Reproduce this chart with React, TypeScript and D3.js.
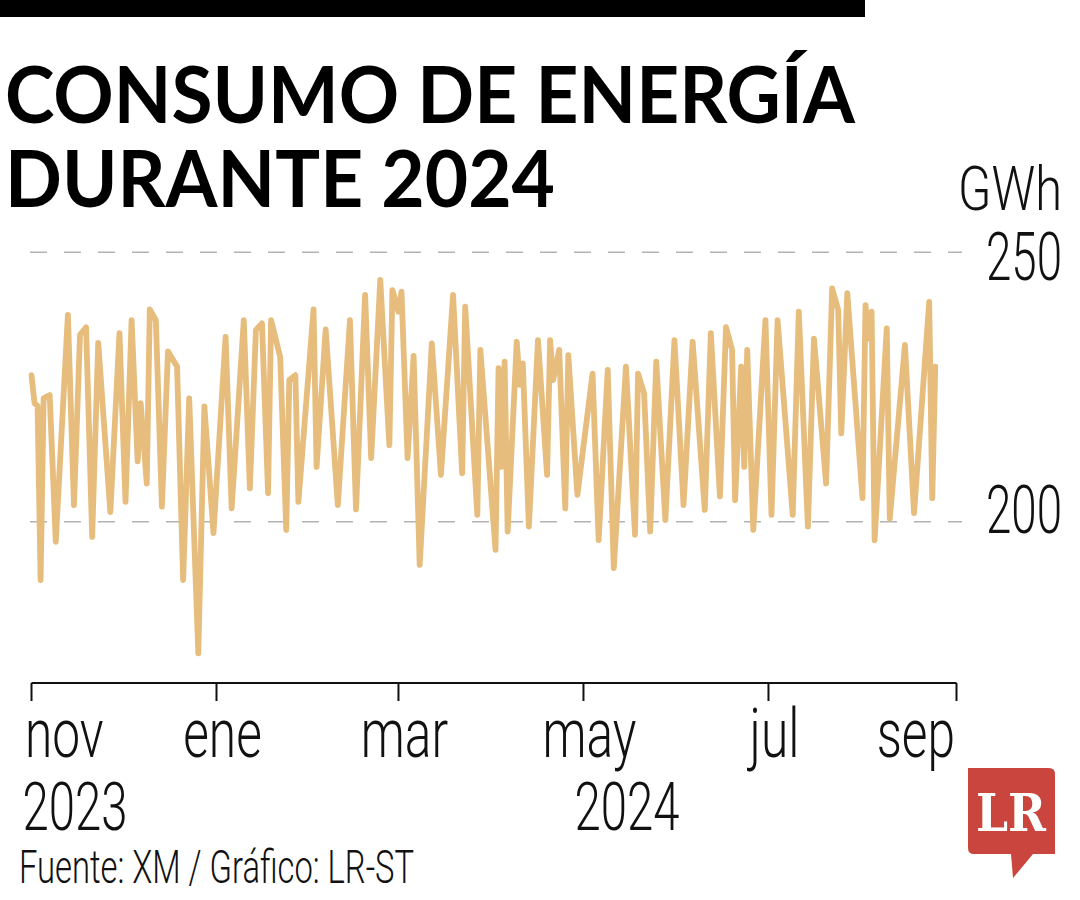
import * as d3 from 'd3';

// Daily electricity demand (GWh), turning points
const dates = [
  '2023-11-01', '2023-11-02', '2023-11-03', '2023-11-04', '2023-11-05', '2023-11-07', '2023-11-09', '2023-11-13',
  '2023-11-15', '2023-11-17', '2023-11-19', '2023-11-21', '2023-11-23', '2023-11-27', '2023-11-30', '2023-12-02',
  '2023-12-04', '2023-12-06', '2023-12-07', '2023-12-09', '2023-12-10', '2023-12-12', '2023-12-14', '2023-12-16',
  '2023-12-19', '2023-12-21', '2023-12-23', '2023-12-26', '2023-12-28', '2023-12-31', '2024-01-04', '2024-01-06',
  '2024-01-10', '2024-01-12', '2024-01-14', '2024-01-16', '2024-01-18', '2024-01-19', '2024-01-22', '2024-01-24',
  '2024-01-25', '2024-01-27', '2024-01-28', '2024-02-02', '2024-02-03', '2024-02-06', '2024-02-10', '2024-02-14',
  '2024-02-16', '2024-02-19', '2024-02-21', '2024-02-24', '2024-02-27', '2024-02-28', '2024-03-01', '2024-03-02',
  '2024-03-04', '2024-03-06', '2024-03-08', '2024-03-12', '2024-03-15', '2024-03-19', '2024-03-22', '2024-03-23',
  '2024-03-27', '2024-03-28', '2024-04-02', '2024-04-03', '2024-04-04', '2024-04-05', '2024-04-06', '2024-04-09',
  '2024-04-10', '2024-04-11', '2024-04-13', '2024-04-16', '2024-04-19', '2024-04-20', '2024-04-21', '2024-04-23',
  '2024-04-25', '2024-04-26', '2024-04-29', '2024-05-04', '2024-05-06', '2024-05-09', '2024-05-11', '2024-05-15',
  '2024-05-18', '2024-05-19', '2024-05-21', '2024-05-23', '2024-05-25', '2024-05-28', '2024-05-31', '2024-06-03',
  '2024-06-06', '2024-06-10', '2024-06-12', '2024-06-15', '2024-06-17', '2024-06-19', '2024-06-20', '2024-06-22',
  '2024-06-23', '2024-06-24', '2024-06-26', '2024-06-30', '2024-07-02', '2024-07-04', '2024-07-09', '2024-07-11',
  '2024-07-14', '2024-07-16', '2024-07-20', '2024-07-22', '2024-07-24', '2024-07-25', '2024-07-27', '2024-08-01',
  '2024-08-02', '2024-08-03', '2024-08-04', '2024-08-05', '2024-08-09', '2024-08-10', '2024-08-15', '2024-08-18',
  '2024-08-23', '2024-08-24', '2024-08-25',
];
const gwh = [
  227.2, 222.0, 221.5, 189.2, 222.9, 223.5, 196.3, 238.4,
  203.1, 234.7, 236.1, 197.2, 233.2, 201.8, 235.0, 203.7,
  237.4, 211.2, 222.0, 207.1, 239.4, 237.4, 202.8, 231.6,
  228.8, 189.2, 222.9, 175.6, 221.4, 197.9, 234.3, 202.5,
  237.4, 206.2, 235.6, 236.8, 205.3, 237.4, 230.6, 198.5,
  226.3, 227.2, 203.7, 239.4, 210.2, 235.7, 203.1, 237.4,
  202.3, 242.1, 211.8, 244.9, 214.2, 243.0, 239.0, 242.7,
  211.8, 230.8, 192.0, 233.1, 208.7, 242.1, 209.0, 239.9,
  201.3, 231.9, 194.8, 228.5, 210.2, 229.7, 198.2, 233.4,
  225.4, 229.4, 199.1, 233.7, 208.7, 233.7, 226.3, 231.9,
  202.5, 230.9, 205.0, 227.5, 196.6, 228.2, 191.4, 228.8,
  197.6, 227.5, 223.8, 198.2, 229.7, 200.3, 233.7, 203.1,
  233.4, 202.2, 235.0, 204.7, 236.1, 231.9, 204.0, 228.8,
  210.2, 231.9, 198.5, 237.4, 201.3, 237.4, 201.3, 239.0,
  199.1, 234.0, 207.1, 243.3, 239.3, 216.4, 242.4, 204.4,
  240.2, 234.0, 239.0, 196.6, 235.9, 200.6, 232.8, 201.6,
  240.8, 204.4, 228.8,
];

const monthTicks = ['2023-11-01', '2024-01-01', '2024-03-01', '2024-05-01', '2024-07-01', '2024-09-01'];
const monthLabels = ['nov', 'ene', 'mar', 'may', 'jul', 'sep'];
const yearTicks = ['2023-11-01', '2024-05-01'];
const yearLabels = ['2023', '2024'];
const yTicks = [200, 250];

const parse = d3.utcParse('%Y-%m-%d');
const LINE = '#e6bd7c';
const LIGHT = "Roboto, 'Liberation Sans Narrow', sans-serif";

export default function App() {
  const W = 1080;
  const H = 900;

  const x = d3.scaleUtc()
    .domain([parse('2023-11-01')!, parse('2024-09-01')!])
    .range([31.5, 956.5]);
  const y = d3.scaleLinear().domain([200, 250]).range([521.8, 252.3]);

  const points = dates.map((d, i) => ({ date: parse(d)!, value: gwh[i] }));
  const line = d3.line<{ date: Date; value: number }>()
    .x(d => x(d.date))
    .y(d => y(d.value));

  const axisY = 683;
  const squeeze = 0.73; // condensed look for axis labels

  return (
    <svg width={W} height={H} style={{ position: 'absolute', left: 0, top: 0, background: '#fff' }}>
      {/* top bar */}
      <rect x={0} y={0} width={865} height={17} fill="#000" />

      {/* title */}
      <text x={5} y={123} fontFamily="Lato, 'Open Sans', sans-serif" fontWeight={700} fontSize={78}
        textLength={850} lengthAdjust="spacingAndGlyphs" fill="#000">CONSUMO DE ENERGÍA</text>
      <text x={5} y={207} fontFamily="Lato, 'Open Sans', sans-serif" fontWeight={700} fontSize={78}
        textLength={550} lengthAdjust="spacingAndGlyphs" fill="#000">DURANTE 2024</text>

      {/* unit */}
      <text x={1062} y={210} textAnchor="end" fontFamily={LIGHT} fontWeight={300} fontSize={62}
        textLength={104} lengthAdjust="spacingAndGlyphs" fill="#111">GWh</text>

      {/* grid */}
      {yTicks.map(t => (
        <line key={t} x1={30} x2={962} y1={y(t)} y2={y(t)}
          stroke="#b3b3b3" strokeWidth={1.6} strokeDasharray="17 17" />
      ))}
      {yTicks.map(t => (
        <text key={'l' + t} x={1062} y={y(t) + (t === 250 ? 28 : 11)} textAnchor="end"
          fontFamily={LIGHT} fontWeight={300} fontSize={66}
          textLength={76} lengthAdjust="spacingAndGlyphs" fill="#111">{t}</text>
      ))}

      {/* series */}
      <path d={line(points) || ''} fill="none" stroke={LINE} strokeWidth={5.8}
        strokeLinejoin="round" strokeLinecap="round" />

      {/* x axis */}
      <line x1={x(parse(monthTicks[0])!)} x2={x(parse(monthTicks[monthTicks.length - 1])!)}
        y1={axisY} y2={axisY} stroke="#111" strokeWidth={2} />
      {monthTicks.map((m, i) => {
        const px = x(parse(m)!);
        const last = i === monthTicks.length - 1;
        const anchor = i === 0 ? 'start' : last ? 'end' : 'middle';
        const tx = i === 0 ? px - 6.5 : last ? px - 1.5 : px + 6;
        return (
          <g key={m}>
            <line x1={px} x2={px} y1={axisY} y2={axisY + 18} stroke="#111" strokeWidth={2} />
            <text transform={`translate(${tx},757) scale(${squeeze},1)`} textAnchor={anchor}
              fontFamily={LIGHT} fontWeight={300} fontSize={68} fill="#111">{monthLabels[i]}</text>
          </g>
        );
      })}
      {yearTicks.map((m, i) => (
        <text key={m} x={x(parse(m)!) - 9} y={830} fontFamily={LIGHT} fontWeight={300}
          fontSize={67} textLength={105} lengthAdjust="spacingAndGlyphs" fill="#111">{yearLabels[i]}</text>
      ))}

      {/* source */}
      <text x={19} y={883} fontFamily={LIGHT} fontWeight={300} fontSize={46}
        textLength={395} lengthAdjust="spacingAndGlyphs" fill="#111">Fuente: XM / Gráfico: LR-ST</text>

      {/* logo */}
      <path d="M968,768 H1049 Q1055,768 1055,774 V854 H1033 L1013,878 L1011,854 H974 Q968,854 968,848 Z"
        fill="#c9453d" />
      <text x={1011} y={831} textAnchor="middle" fontFamily="'DejaVu Serif', 'Liberation Serif', serif"
        fontWeight={700} fontSize={52} textLength={70} lengthAdjust="spacingAndGlyphs" fill="#fff">LR</text>
    </svg>
  );
}
